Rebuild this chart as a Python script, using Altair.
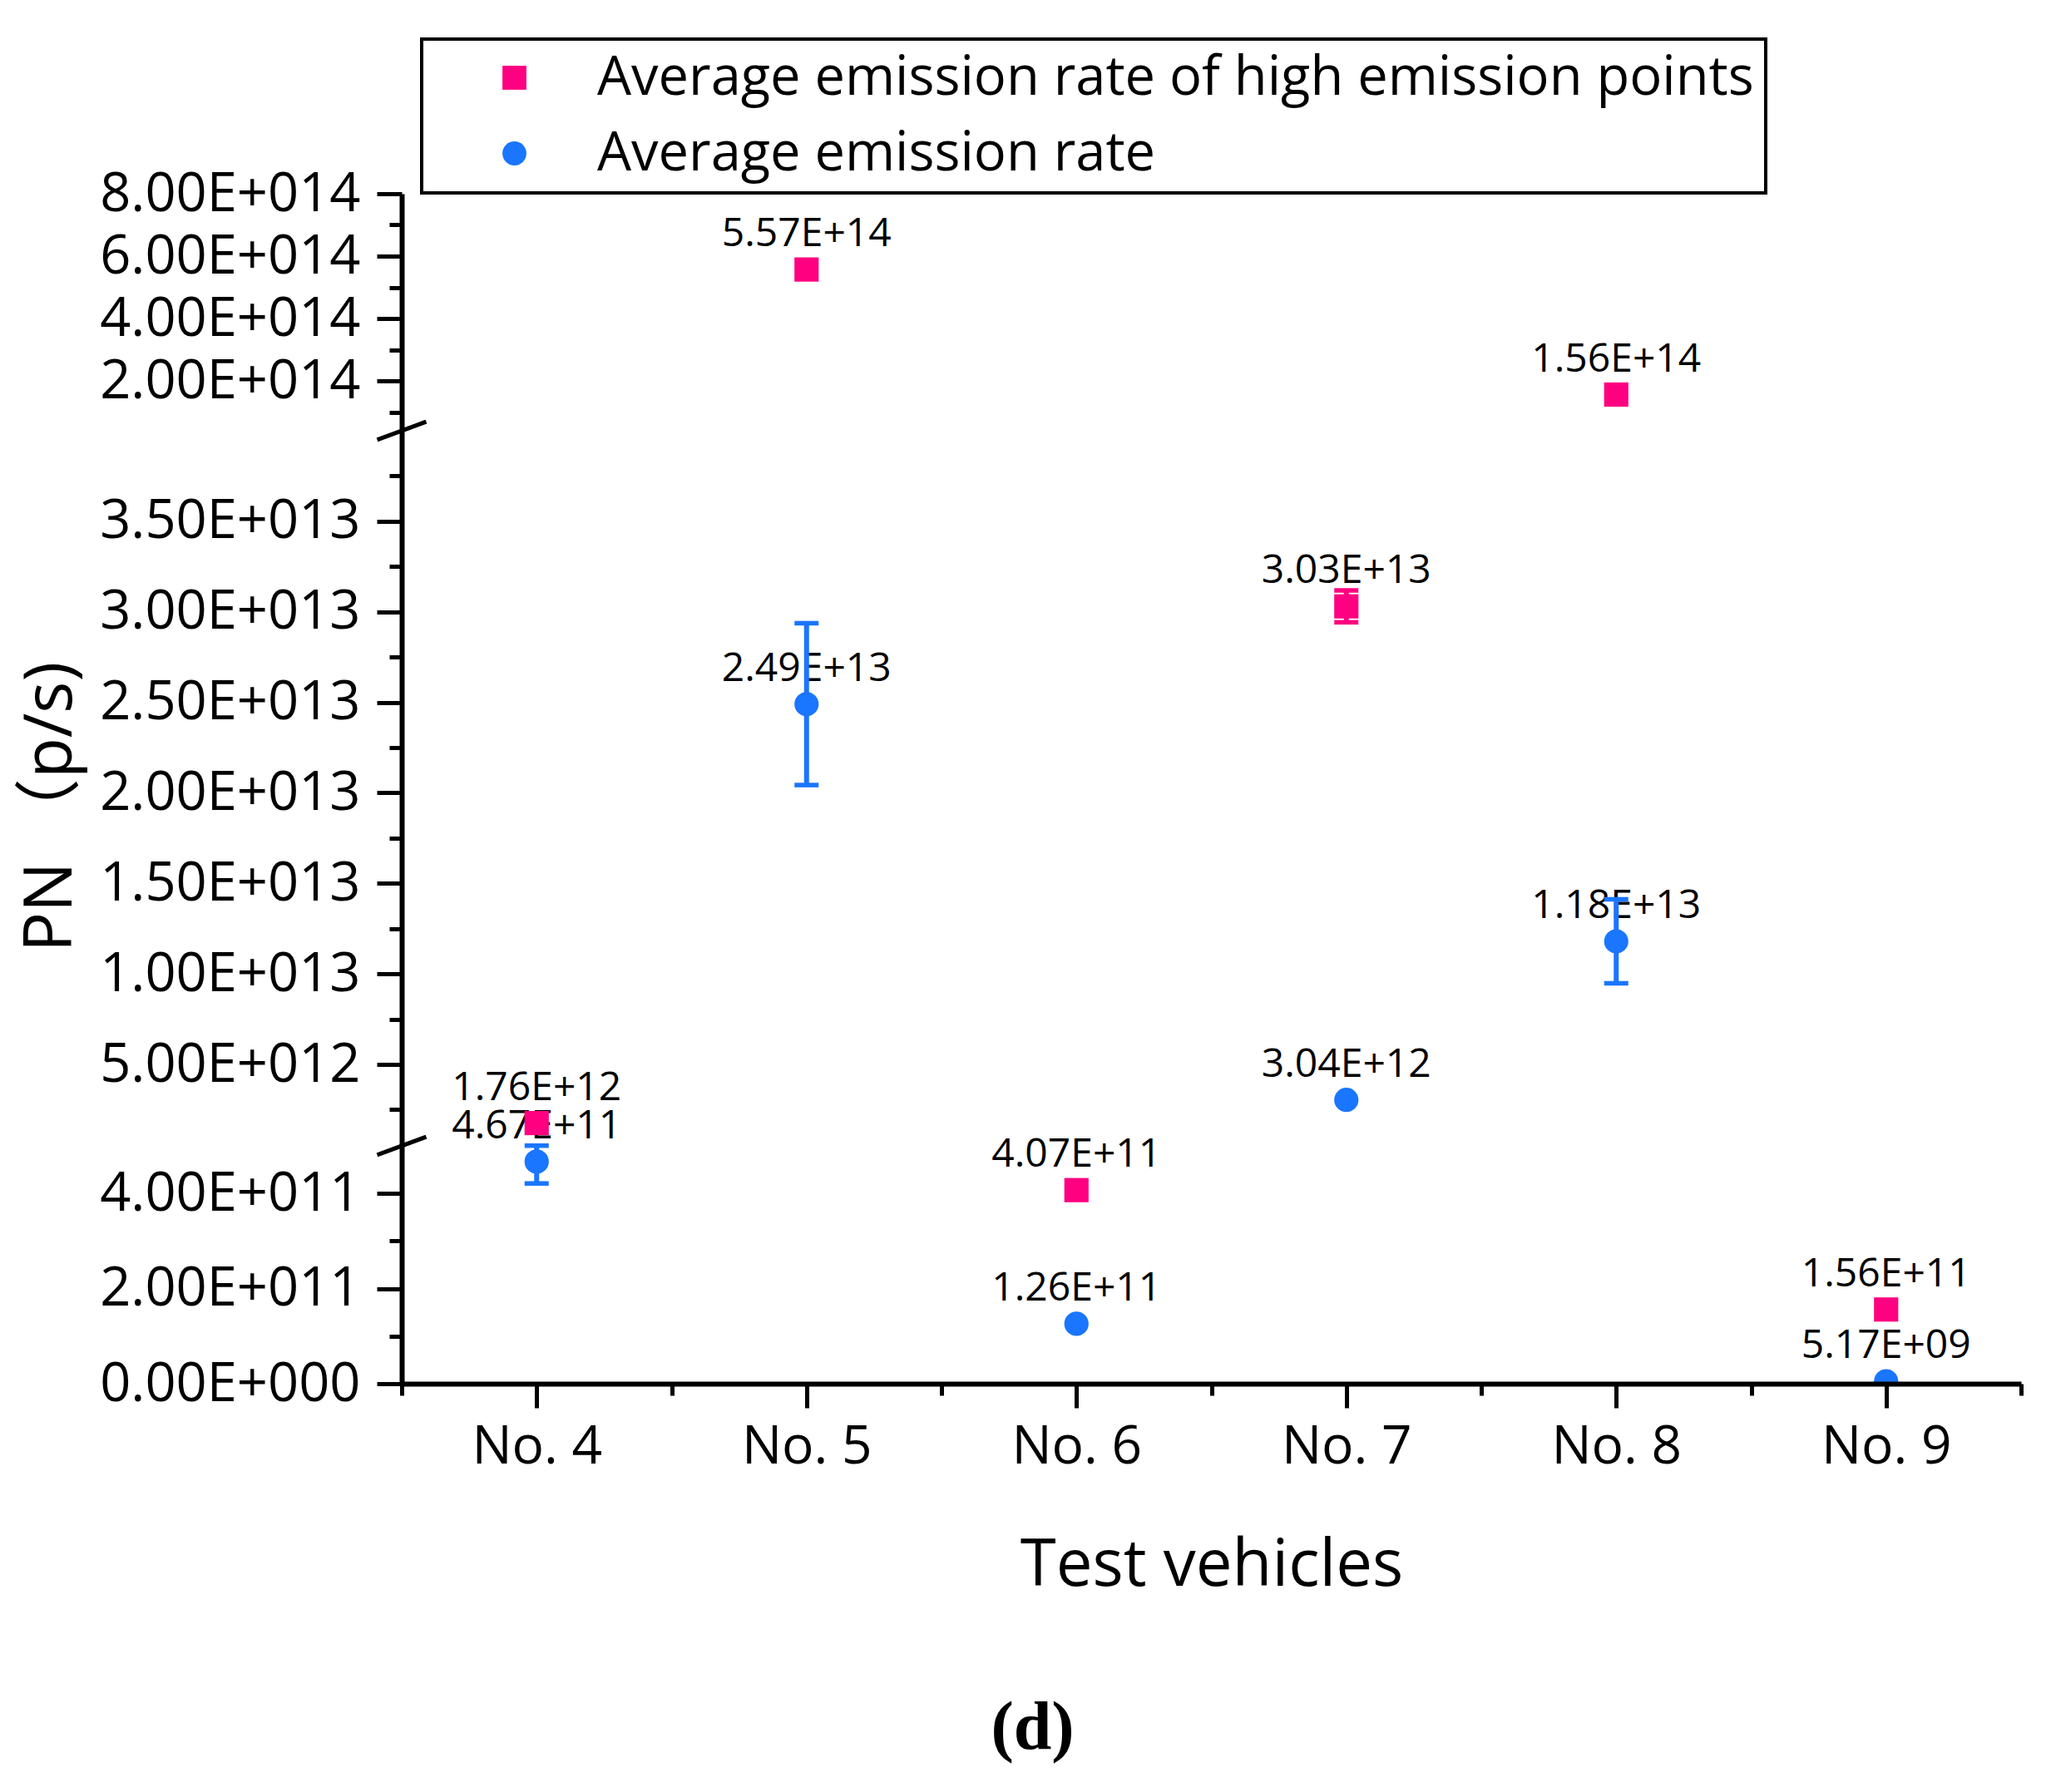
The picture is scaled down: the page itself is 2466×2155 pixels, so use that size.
import altair as alt
import pandas as pd

# ---------------- data ----------------
vehicles = ["No. 4", "No. 5", "No. 6", "No. 7", "No. 8", "No. 9"]
series_names = ["Average emission rate of high emission points", "Average emission rate"]

high_rate = [1.76e12, 5.57e14, 4.07e11, 3.03e13, 1.56e14, 1.56e11]
high_err = [0, 0, 0, 8.8e11, 0, 0]
avg_rate = [4.67e11, 2.49e13, 1.26e11, 3.04e12, 1.18e13, 5.17e9]
avg_err = [4.6e10, 4.47e12, 0, 0, 2.32e12, 0]

# broken axis: segment boundaries and ticks
y_segments = [0, 5e11, 4e13, 8e14]
y_breaks = [5e11, 4e13]
y_major = [0, 2e11, 4e11, 5e12, 1e13, 1.5e13, 2e13, 2.5e13, 3e13, 3.5e13,
           2e14, 4e14, 6e14, 8e14]
y_major_labels = ["0.00E+000", "2.00E+011", "4.00E+011", "5.00E+012", "1.00E+013",
                  "1.50E+013", "2.00E+013", "2.50E+013", "3.00E+013", "3.50E+013",
                  "2.00E+014", "4.00E+014", "6.00E+014", "8.00E+014"]
y_minor = [1e11, 3e11, 2.5e12, 7.5e12, 1.25e13, 1.75e13, 2.25e13, 2.75e13,
           3.25e13, 3.75e13, 1e14, 3e14, 5e14, 7e14]

PINK = "#FF0080"
BLUE = "#1A75FF"

# ---------------- tables ----------------
rows = []
for i, veh in enumerate(vehicles):
    for s, vals, errs in ((series_names[0], high_rate, high_err),
                          (series_names[1], avg_rate, avg_err)):
        rows.append({"idx": i, "vehicle": veh, "series": s, "value": vals[i],
                     "err": errs[i], "label": f"{vals[i]:.2E}"})
df = pd.DataFrame(rows)
breaks_df = pd.DataFrame({"v": y_breaks})

# ---------------- geometry ----------------
W, H = 1947, 1431
seg_px = [1431, 1145, 285, 0]
x_dom = [-0.5, len(vehicles) - 0.5]

xscale = alt.Scale(domain=x_dom, nice=False, zero=False)
yscale = alt.Scale(type="linear", domain=y_segments, range=seg_px, nice=False, zero=False)

x_label_expr = "[" + ",".join(f"'{v}'" for v in vehicles) + "][datum.value]"
y_label_expr = " : ".join(
    f"datum.value == {float(v)!r} ? '{lab}'" for v, lab in zip(y_major, y_major_labels)
) + " : ''"

x_major_axis = alt.Axis(values=list(range(len(vehicles))), labelExpr=x_label_expr,
                        title="Test vehicles", orient="bottom",
                        tickSize=29, tickWidth=5, domainWidth=6, labelFontSize=64,
                        labelPadding=15, titleFontSize=78, titleFontWeight="normal",
                        titleY=242, titleBaseline="alphabetic", zindex=1,
                        labelLimit=1000)
x_minor_axis = alt.Axis(values=[k - 0.5 for k in range(len(vehicles) + 1)], labels=False,
                        title=None, orient="bottom", tickSize=14, tickWidth=5,
                        domain=False, zindex=1)
y_major_axis = alt.Axis(values=y_major, labelExpr=y_label_expr, title="PN （p/s)",
                        orient="left", tickSize=30, tickWidth=5, domainWidth=6,
                        labelFontSize=65, labelPadding=20, labelLimit=1000,
                        labelOverlap=False, titleFontSize=80,
                        titleFontWeight="normal", titleAngle=270, titleX=-398, titleY=737,
                        titleAlign="center", titleBaseline="alphabetic",
                        titleFont="Open Sans, Noto Sans CJK SC", zindex=1)
y_minor_axis = alt.Axis(values=y_minor, labels=False, title=None, orient="left",
                        tickSize=15, tickWidth=5, domain=False, zindex=1)

base = alt.Chart(df)

labels = base.mark_text(fontSize=48, dy=-28, baseline="alphabetic", align="center",
                        color="black").encode(
    x=alt.X("idx:Q", scale=xscale, axis=x_major_axis),
    y=alt.Y("value:Q", scale=yscale, axis=y_major_axis),
    text="label:N",
)


def err_layers(series, color):
    e = base.transform_filter(
        (alt.datum.series == series) & (alt.datum.err > 0)
    ).transform_calculate(lo="datum.value - datum.err", hi="datum.value + datum.err")
    stem = e.mark_rule(color=color, strokeWidth=6).encode(
        x=alt.X("idx:Q", scale=xscale, axis=None),
        y=alt.Y("lo:Q", scale=yscale, axis=None),
        y2="hi:Q",
    )
    caps = e.transform_fold(["lo", "hi"], as_=["end", "endval"]).mark_tick(
        color=color, orient="horizontal", size=29, thickness=5.5, opacity=1
    ).encode(
        x=alt.X("idx:Q", scale=xscale, axis=None),
        y=alt.Y("endval:Q", scale=yscale, axis=None),
    )
    return stem + caps


err_avg = err_layers(series_names[1], BLUE)
err_high = err_layers(series_names[0], PINK)

legend = alt.Legend(title=None, orient="none", legendX=24, legendY=-186,
                    labelFontSize=65, labelFont="Open Sans",
                    symbolSize=830, symbolStrokeWidth=0,
                    symbolOffset=65, labelOffset=67, padding=14,
                    rowPadding=25, labelLimit=3000, strokeColor="black")

points = base.mark_point(filled=True, size=850, opacity=1, clip=True).encode(
    x=alt.X("idx:Q", scale=xscale, axis=x_minor_axis),
    y=alt.Y("value:Q", scale=yscale, axis=y_minor_axis),
    color=alt.Color("series:N",
                    scale=alt.Scale(domain=series_names, range=[PINK, BLUE]),
                    legend=legend),
    shape=alt.Shape("series:N",
                    scale=alt.Scale(domain=series_names, range=["square", "circle"]),
                    legend=legend),
)

breaks = alt.Chart(breaks_df).mark_point(
    shape="M -1 0.37 L 1 -0.37", size=3481, filled=False, strokeWidth=5,
    color="black", opacity=1
).encode(
    x=alt.XDatum(x_dom[0], type="quantitative", scale=xscale, axis=None),
    y=alt.Y("v:Q", scale=yscale, axis=None),
)

chart = alt.layer(labels, err_avg, err_high, points, breaks).resolve_axis(
    x="independent", y="independent"
).properties(
    width=W, height=H,
    autosize=alt.AutoSizeParams(type="none"),
    padding={"left": 475, "top": 225, "right": 28, "bottom": 483},
    title=alt.TitleParams("(d)", orient="bottom", font="Liberation Serif",
                          fontWeight="bold", fontSize=82, anchor="middle", dx=-215,
                          offset=116, color="black"),
).configure(
    font="Open Sans",
).configure_view(
    stroke=None,
).configure_axis(
    domainColor="black", tickColor="black", labelColor="black", titleColor="black",
    grid=False, labelFont="Open Sans", titleFont="Open Sans",
).configure_legend(
    strokeWidth=4,
)

chart.save("out.html", embed_options={"renderer": "svg", "actions": False})
